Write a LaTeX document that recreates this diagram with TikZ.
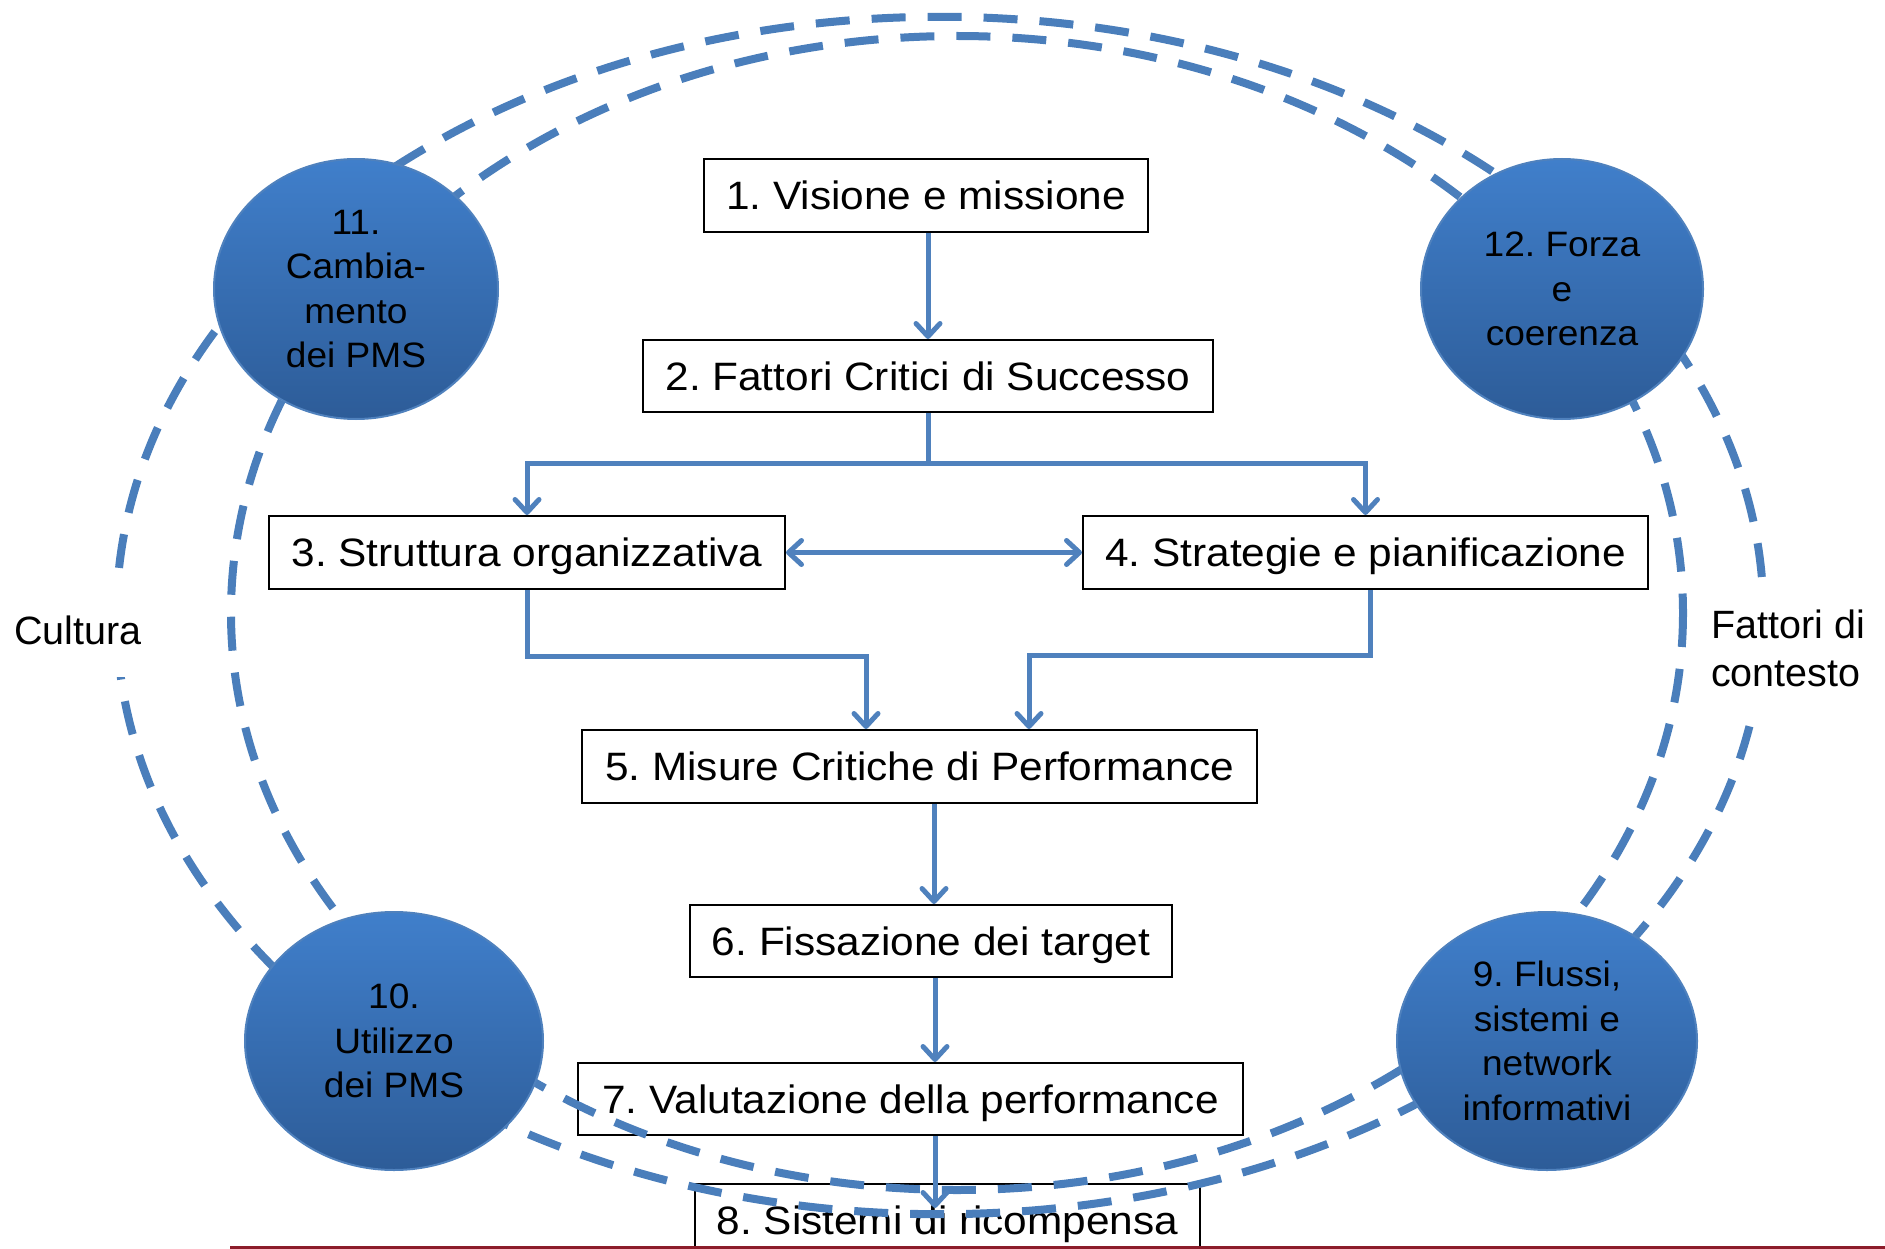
\documentclass[tikz,border=0pt]{standalone}
\usepackage{fontspec}
\setmainfont{Liberation Sans}
\newfontfamily\boxfont[FakeStretch=1.07]{Liberation Sans}
\newfontfamily\circfont[FakeStretch=1.05]{Liberation Sans}
\usetikzlibrary{arrows.meta,shapes.geometric}
\definecolor{linkblue}{RGB}{79,129,189}
\definecolor{dashblue}{RGB}{74,126,187}
\definecolor{circtop}{RGB}{64,127,203}
\definecolor{circbot}{RGB}{45,92,152}
\definecolor{circedge}{RGB}{79,129,189}
\definecolor{rulered}{RGB}{140,28,42}
\frenchspacing
\begin{document}
\begin{tikzpicture}[x=1pt,y=-1pt,
  stepbox/.style={draw=black, line width=2pt, fill=white, inner sep=0pt,
    text height=28.4pt, text depth=0pt,
    font=\boxfont\fontsize{39.6}{44}\selectfont},
  disc/.style={ellipse, inner sep=0pt, top color=circtop, bottom color=circbot,
    draw=circedge, line width=2pt, align=center,
    font=\circfont\fontsize{35.3}{44.5}\selectfont},
  sidelabel/.style={fill=white, inner xsep=10pt, inner ysep=32pt,
    font=\fontsize{39.5}{48}\selectfont},
  link/.style={draw=linkblue, line width=5pt,
    -{Straight Barb[length=13pt,width=24pt,round]}},
  dlink/.style={draw=linkblue, line width=5pt,
    {Straight Barb[length=13pt,width=24pt,round]}-{Straight Barb[length=13pt,width=24pt,round]}},
  dashring/.style={draw=dashblue, line width=8pt, dash pattern=on 34pt off 22pt}
]
\useasboundingbox (0,0) rectangle (1885,1249);

% boxes
\node[stepbox, minimum width=444pt, minimum height=73pt] (b1) at (926,195.5) {1. Visione e missione};
\node[stepbox, minimum width=570pt, minimum height=72pt] (b2) at (928,376) {2. Fattori Critici di Successo};
\node[stepbox, minimum width=516pt, minimum height=73pt] (b3) at (527,552.5) {3. Struttura organizzativa};
\node[stepbox, minimum width=565pt, minimum height=73pt] (b4) at (1365.5,552.5) {4. Strategie e pianificazione};
\node[stepbox, minimum width=675pt, minimum height=73pt] (b5) at (919.5,766.5) {5. Misure Critiche di Performance};
\node[stepbox, minimum width=482pt, minimum height=72pt] (b6) at (931,941) {6. Fissazione dei target};
\node[stepbox, minimum width=665pt, minimum height=72pt] (b7) at (910.5,1099) {7. Valutazione della performance};
\node[stepbox, minimum width=505pt, minimum height=73pt] (b8) at (947.5,1220.5) {8. Sistemi di ricompensa};

% dashed rings
\draw[dashring] (940,615.5) ellipse [x radius=823.5, y radius=598.7];
\draw[dashring] (957,613) ellipse [x radius=726, y radius=577];

% connectors
\coordinate (j2) at (928,463);
\draw[link] (b2.north |- b1.south) -- (b2.north);
\draw[link] (b2.south) -- (j2) -| (b3.north);
\draw[link] (j2) -| (b4.north);
\draw[dlink] (b3.east) -- (b4.west);
\coordinate (k3) at (866,656);
\coordinate (k4) at (1029,655);
\draw[link] (b3.south) |- (k3) -- (k3 |- b5.north);
\draw[link] ([xshift=5pt]b4.south) |- (k4) -- (k4 |- b5.north);
\coordinate (k5) at (934,0);
\draw[link] (k5 |- b5.south) -- (k5 |- b6.north);
\coordinate (k6) at (935,0);
\draw[link] (k6 |- b6.south) -- (k6 |- b7.north);
\coordinate (t8) at (935,1208);
\draw[link] (t8 |- b7.south) -- (t8);

% side labels
\node[sidelabel] (cult) at (78,630) {Cultura};
\node[sidelabel, anchor=west, align=left] (ctx) at (1701,648.5) {Fattori di\\contesto};

% discs
\node[disc, minimum width=284pt, minimum height=260pt] (c11) at (356,289) {11.\\Cambia-\\mento\\dei PMS};
\node[disc, minimum width=282pt, minimum height=260pt] (c12) at (1562,289) {12. Forza\\e\\coerenza};
\node[disc, minimum width=298pt, minimum height=258pt] (c10) at (394,1041) {10.\\Utilizzo\\dei PMS};
\node[disc, minimum width=300pt, minimum height=258pt] (c9) at (1547,1041) {9. Flussi,\\sistemi e\\network\\informativi};

% bottom rule
\draw[rulered, line width=2.5pt] (230,1247.5) -- (1885,1247.5);
\end{tikzpicture}
\end{document}
